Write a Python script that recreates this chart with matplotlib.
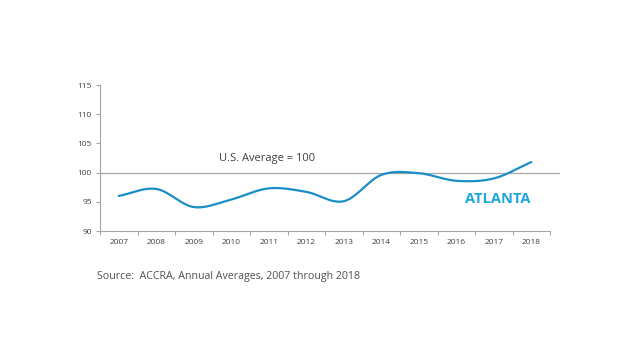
import numpy as np
import matplotlib
matplotlib.use("Agg")
import matplotlib.pyplot as plt

years = ["2007", "2008", "2009", "2010", "2011", "2012", "2013", "2014", "2015", "2016", "2017", "2018"]
atlanta = [96.0, 97.2, 94.1, 95.4, 97.3, 96.7, 95.1, 99.6, 99.9, 98.6, 99.0, 101.8]
y_ticks = [90, 95, 100, 105, 110, 115]
us_average = 100

plt.rcParams['font.family'] = ['Open Sans', 'DejaVu Sans']

def catmull_rom(x, y, n=30):
    x = np.asarray(x, float); y = np.asarray(y, float)
    px = np.concatenate([[2*x[0]-x[1]], x, [2*x[-1]-x[-2]]])
    py = np.concatenate([[2*y[0]-y[1]], y, [2*y[-1]-y[-2]]])
    xs, ys = [], []
    t = np.linspace(0, 1, n, endpoint=False)
    for i in range(1, len(px)-2):
        def cr(a0, a1, a2, a3):
            return 0.5*((2*a1) + (-a0+a2)*t + (2*a0-5*a1+4*a2-a3)*t**2 + (-a0+3*a1-3*a2+a3)*t**3)
        xs.append(cr(px[i-1], px[i], px[i+1], px[i+2])); ys.append(cr(py[i-1], py[i], py[i+1], py[i+2]))
    xs.append([x[-1]]); ys.append([y[-1]])
    return np.concatenate(xs), np.concatenate(ys)

fig = plt.figure(figsize=(6.4, 3.6), dpi=100)
ax = fig.add_axes([100/640, 1-231/360, 450/640, 146/360])

xpos = np.arange(len(years))
sx, sy = catmull_rom(xpos, atlanta)
ax.plot(sx, sy, color='#1a8ec6', lw=1.6, solid_capstyle='round', zorder=3)

ax.plot([-0.5, -0.5 + (559-100)/450*12], [us_average, us_average], color='#a6a6a6', lw=0.9, clip_on=False, zorder=2)

ax.set_xlim(-0.5, len(years)-0.5)
ax.set_ylim(90, 115)
ax.set_yticks(y_ticks)
ax.set_yticklabels([str(v) for v in y_ticks])
ax.set_xticks(xpos)
ax.set_xticklabels(years)
ax.set_xticks(np.arange(-0.5, len(years)), minor=True)
ax.tick_params(axis='x', which='major', length=0, labelsize=6, labelcolor='#404040', pad=6)
ax.tick_params(axis='x', which='minor', length=3, color='#a6a6a6', width=0.8)
ax.tick_params(axis='y', which='major', length=3, color='#a6a6a6', width=0.8, labelsize=6, labelcolor='#404040', pad=3)
for s in ['top', 'right']:
    ax.spines[s].set_visible(False)
for s in ['left', 'bottom']:
    ax.spines[s].set_color('#a6a6a6')
    ax.spines[s].set_linewidth(0.8)

ax.text(-0.5 + (219-100)/37.5, 102.5, 'U.S. Average = 100', fontsize=8, color='#404040', ha='left', va='center')
fig.text(465/640, 1-199/360, 'ATLANTA', fontsize=10.5, fontweight='bold', color='#1ea6df', ha='left', va='center')
fig.text(97/640, 1-276/360, 'Source:  ACCRA, Annual Averages, 2007 through 2018', fontsize=7.7, color='#505050', ha='left', va='center')

fig.savefig('out.png', dpi=100)
